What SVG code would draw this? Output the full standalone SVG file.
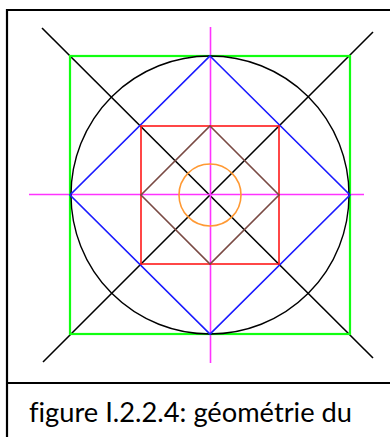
<svg xmlns="http://www.w3.org/2000/svg" width="390" height="437" viewBox="0 0 390 437">
<style>
.frame{fill:none;stroke:#000;stroke-width:2.2}
.cap{font-family:Lato,"Open Sans","Liberation Sans",sans-serif;font-size:26px;fill:#000;font-variant-ligatures:none}
</style>
<rect width="390" height="437" fill="#fff"/>
<g id="frame">
<line class="frame" x1="7" y1="10" x2="390" y2="10"/>
<line class="frame" x1="7" y1="9" x2="7" y2="437"/>
<line class="frame" x1="7" y1="383" x2="390" y2="383"/>
</g>
<g id="connectors">
<line id="diag1" x1="42" y1="28" x2="373" y2="358" stroke="#000" stroke-width="1.6"/>
<line id="diag2" x1="373" y1="32" x2="43" y2="362" stroke="#000" stroke-width="1.6"/>
<line id="axisH" x1="29" y1="194.5" x2="364" y2="194.5" stroke="#ff33ff" stroke-width="1.6"/>
<line id="axisV" x1="210.5" y1="27" x2="210.5" y2="363" stroke="#ff33ff" stroke-width="1.6"/>
</g>
<g id="greenSquare"><rect x="70" y="56" width="280" height="278" fill="none" stroke="#11ff11" stroke-width="2.2"/></g>
<g id="bigCircle"><circle cx="210" cy="195" r="139" fill="none" stroke="#000" stroke-width="1.4"/></g>
<g id="blueDiamond"><polygon points="210,56 350,195 210,334 70,195" fill="none" stroke="#1a1aff" stroke-width="1.6"/></g>
<g id="redSquare"><rect x="141" y="126" width="138" height="138" fill="none" stroke="#ff1a1a" stroke-width="1.6"/></g>
<g id="brownDiamond"><polygon points="210,126 279,195 210,264 141,195" fill="none" stroke="#7a4a44" stroke-width="1.6"/></g>
<g id="orangeCircle"><circle cx="210" cy="195" r="31" fill="none" stroke="#ff9933" stroke-width="1.6"/></g>
<g id="caption"><text class="cap" x="29" y="422" textLength="323" lengthAdjust="spacingAndGlyphs">figure I.2.2.4: géométrie du</text></g>
</svg>
